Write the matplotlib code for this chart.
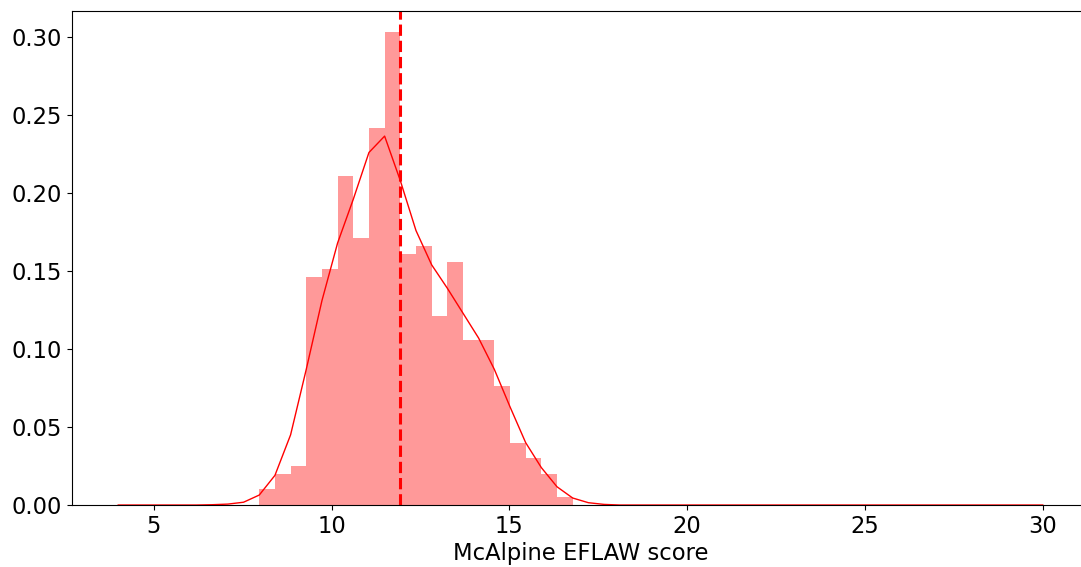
import matplotlib
matplotlib.use("Agg")
import matplotlib.pyplot as plt
import numpy as np

# histogram: density per bin, 59 equal bins between 4 and 30
hist_start = 4.0
hist_end = 30.0
hist_density = [
    0, 0, 0, 0, 0, 0, 0, 0, 0,
    0.010, 0.020, 0.025, 0.146, 0.151, 0.211, 0.171, 0.242, 0.303, 0.161,
    0.166, 0.121, 0.156, 0.106, 0.106, 0.076, 0.040, 0.030, 0.020, 0.005,
    0, 0, 0, 0, 0, 0, 0, 0, 0, 0,
    0, 0, 0, 0, 0, 0, 0, 0, 0, 0,
    0, 0, 0, 0, 0, 0, 0, 0, 0, 0,
]

# kde curve, evaluated on the bin edges
kde_density = [
    0, 0, 0, 0, 0, 0, 0.0002, 0.0006, 0.0018, 0.0064,
    0.019, 0.045, 0.087, 0.131, 0.168, 0.196, 0.226, 0.2365, 0.208, 0.176,
    0.154, 0.139, 0.123, 0.107, 0.087, 0.063, 0.040, 0.024, 0.0117, 0.0045,
    0.0015, 0.0004, 0, 0, 0, 0, 0, 0, 0, 0,
    0, 0, 0, 0, 0, 0, 0, 0, 0, 0,
    0, 0, 0, 0, 0, 0, 0, 0, 0, 0,
]

mean_score = 11.93

edges = np.linspace(hist_start, hist_end, len(hist_density) + 1)

fig = plt.figure(figsize=(10.81, 5.67), dpi=100)
# the right edge of the axes falls just outside the saved picture
ax = fig.add_axes([0.0666, 0.1093, 0.9408, 0.8713])

ax.bar(edges[:-1], hist_density, width=np.diff(edges), align="edge",
       color="r", alpha=0.4, linewidth=0)
ax.plot(edges, kde_density, color="r", linewidth=1)
ax.axvline(mean_score, color="r", linestyle="--", linewidth=2.2)

ax.set_xlim(2.7, 31.3)
ax.set_ylim(0, 0.3167)
ax.set_yticks([0, 0.05, 0.10, 0.15, 0.20, 0.25, 0.30])
ax.set_yticklabels(["0.00", "0.05", "0.10", "0.15", "0.20", "0.25", "0.30"])
ax.tick_params(labelsize=16.3)
ax.set_xlabel("McAlpine EFLAW score", fontsize=16.3, labelpad=3)

fig.savefig("out.png", dpi=100)
